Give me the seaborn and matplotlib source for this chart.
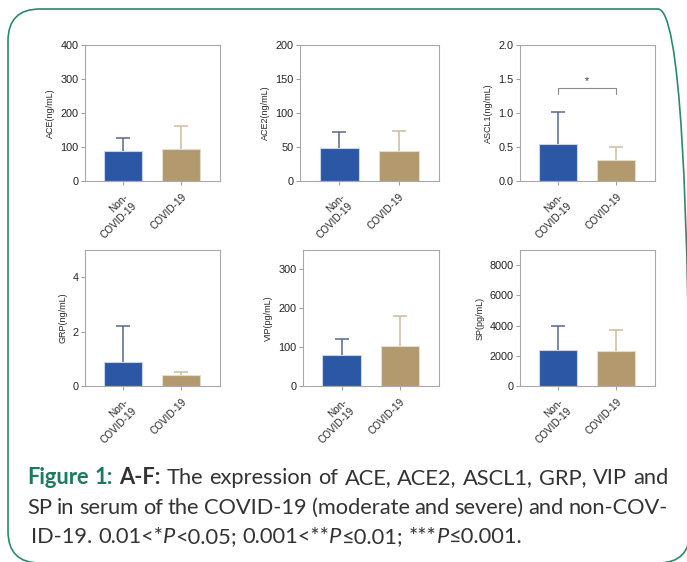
import numpy as np
import pandas as pd
import seaborn as sns
import matplotlib.pyplot as plt
from matplotlib.patches import FancyBboxPatch
from matplotlib.transforms import IdentityTransform

# groups and colours
groups = ["Non-\nCOVID-19", "COVID-19"]
bar_colors = ["#2c57a4", "#b39a6e"]
edge_colors = ["#c9d5ea", "#e6dccb"]
err_colors = ["#56688f", "#cdbb9c"]

# mean and SD (upper error only)
ace_mean = [89, 95]
ace_sd = [37, 66]
ace2_mean = [48, 44.5]
ace2_sd = [24, 29]
ascl1_mean = [0.54, 0.315]
ascl1_sd = [0.48, 0.185]
grp_mean = [0.90, 0.40]
grp_sd = [1.30, 0.12]
vip_mean = [78.5, 103]
vip_sd = [42, 77]
sp_mean = [2370, 2330]
sp_sd = [1620, 1390]

labels = ["ACE(ng/mL)", "ACE2(ng/mL)", "ASCL1(ng/mL)", "GRP(ng/mL)", "VIP(pg/mL)", "SP(pg/mL)"]
means = [ace_mean, ace2_mean, ascl1_mean, grp_mean, vip_mean, sp_mean]
sds = [ace_sd, ace2_sd, ascl1_sd, grp_sd, vip_sd, sp_sd]
ytops = [400, 200, 2.0, 5, 350, 9000]
yticks = [[0, 100, 200, 300, 400], [0, 50, 100, 150, 200], [0.0, 0.5, 1.0, 1.5, 2.0],
          [0, 2, 4], [0, 100, 200, 300], [0, 2000, 4000, 6000, 8000]]
yfmt = ["{:.0f}", "{:.0f}", "{:.1f}", "{:.0f}", "{:.0f}", "{:.0f}"]

# ASCL1 significance bracket
sig_y = 1.37
sig_drop = 0.09
sig_text = "*"

W, H = 687, 562
# axes boxes in pixels: left, top, right, bottom
boxes = [(85, 45, 220, 181), (300, 45, 439, 181), (520, 45, 655, 181),
         (85, 250, 220, 386), (303, 250, 439, 386), (520, 250, 655, 386)]

sns.set_style("white")
plt.rcParams['font.family'] = ['Liberation Sans', 'DejaVu Sans']

fig = plt.figure(figsize=(W / 100, H / 100), dpi=100)
fig.patch.set_facecolor("white")

for i in range(6):
    l, t, r, b = boxes[i]
    ax = fig.add_axes([l / W, 1 - b / H, (r - l) / W, (b - t) / H])
    df = pd.DataFrame({"group": groups, "value": means[i]})
    sns.barplot(data=df, x="group", y="value", hue="group", order=groups, hue_order=groups,
                palette=dict(zip(groups, bar_colors)), errorbar=None, legend=False,
                width=0.655, linewidth=0.8, saturation=1, ax=ax)
    for p, ec in zip(ax.patches, edge_colors):
        p.set_edgecolor(ec)
    for j in range(2):
        eb = ax.errorbar(j, means[i][j], yerr=[[0], [sds[i][j]]], fmt='none', ecolor=err_colors[j],
                         elinewidth=1.1, capsize=5, capthick=1.1, zorder=3)
        eb.lines[1][0].set_visible(False)  # no cap at the bar top
    ax.set_xlim(-0.66, 1.67)
    ax.set_ylim(0, ytops[i])
    ax.set_yticks(yticks[i])
    ax.set_yticklabels([yfmt[i].format(v) for v in yticks[i]])
    ax.set_xticks([0, 1])
    ax.set_xticklabels(groups, rotation=45, ha='right', va='top', rotation_mode='anchor', fontsize=7.2)
    ax.set_xlabel("")
    ax.set_ylabel(labels[i], fontsize=6.5, labelpad=4)
    ax.tick_params(bottom=True, left=True, length=3, width=0.75, color='#a0a0a0', pad=1.5,
                   labelcolor='#222222')
    ax.tick_params(axis='y', labelsize=7.8)
    ax.tick_params(axis='x', pad=5)
    for s in ax.spines.values():
        s.set_color('#a8a8a8')
        s.set_linewidth(0.8)
    if i == 2:
        ax.plot([0, 0, 1, 1], [sig_y - sig_drop, sig_y, sig_y, sig_y - sig_drop],
                color='#8c8c8c', lw=0.8)
        ax.text(0.5, sig_y + 0.03, sig_text, ha='center', va='bottom', fontsize=7.5, color='#333333')

# outer frame
fig.add_artist(FancyBboxPatch((8, -1), 682, 554, boxstyle="round,pad=0,rounding_size=32",
                              transform=IdentityTransform(), fill=False, edgecolor='#2a8a6c',
                              linewidth=1.2, clip_on=False))

# caption, justified like the source
teal = '#1d7a62'
ink = '#333333'
cap_font = ['Lato', 'DejaVu Sans']
BOLD = dict(fontweight='bold')
TEAL = dict(fontweight='bold', color=teal)
ITAL = dict(fontstyle='italic')


def plain(s):
    return [[(w, {})] for w in s.split()]


line1 = [[("Figure", TEAL)], [("1:", TEAL)], [("A-F:", BOLD)]] + \
    plain("The expression of ACE, ACE2, ASCL1, GRP, VIP and")
line2 = plain("SP in serum of the COVID-19 (moderate and severe) and non-COV-")
line3 = [[("ID-19.", {})],
         [("0.01<*", {}), ("P", ITAL), ("<0.05;", {})],
         [("0.001<**", {}), ("P", ITAL), ("≤0.01;", {})],
         [("***", {}), ("P", ITAL), ("≤0.001.", {})]]

renderer = fig.canvas.get_renderer()


def measure(s, size, props):
    t = fig.text(0, 0, s, fontsize=size, family=cap_font, **props)
    w = t.get_window_extent(renderer).width
    t.remove()
    return w


def word_width(word, size):
    return sum(measure(s, size, p) for s, p in word)


left, right = 27, 668
size = 16
while size > 9:
    sp = measure("a a", size, {}) - measure("aa", size, {})
    need = max(sum(word_width(w, size) for w in ln) + 0.75 * sp * (len(ln) - 1) for ln in (line1, line2))
    if need <= right - left:
        break
    size -= 0.25

sp = measure("a a", size, {}) - measure("aa", size, {})
for ln, base, x0, justify in ((line1, 484, left, True), (line2, 514, left, True), (line3, 543, left + 4, False)):
    widths = [word_width(w, size) for w in ln]
    gap = (right - x0 - sum(widths)) / (len(ln) - 1) if justify else sp
    x = x0
    for w, ww in zip(ln, widths):
        xx = x
        for s, p in w:
            props = dict(color=ink)
            props.update(p)
            fig.text(xx / W, 1 - base / H, s, fontsize=size, family=cap_font, va='baseline', ha='left', **props)
            xx += measure(s, size, p)
        x += ww + gap

fig.savefig("out.png", dpi=100)
